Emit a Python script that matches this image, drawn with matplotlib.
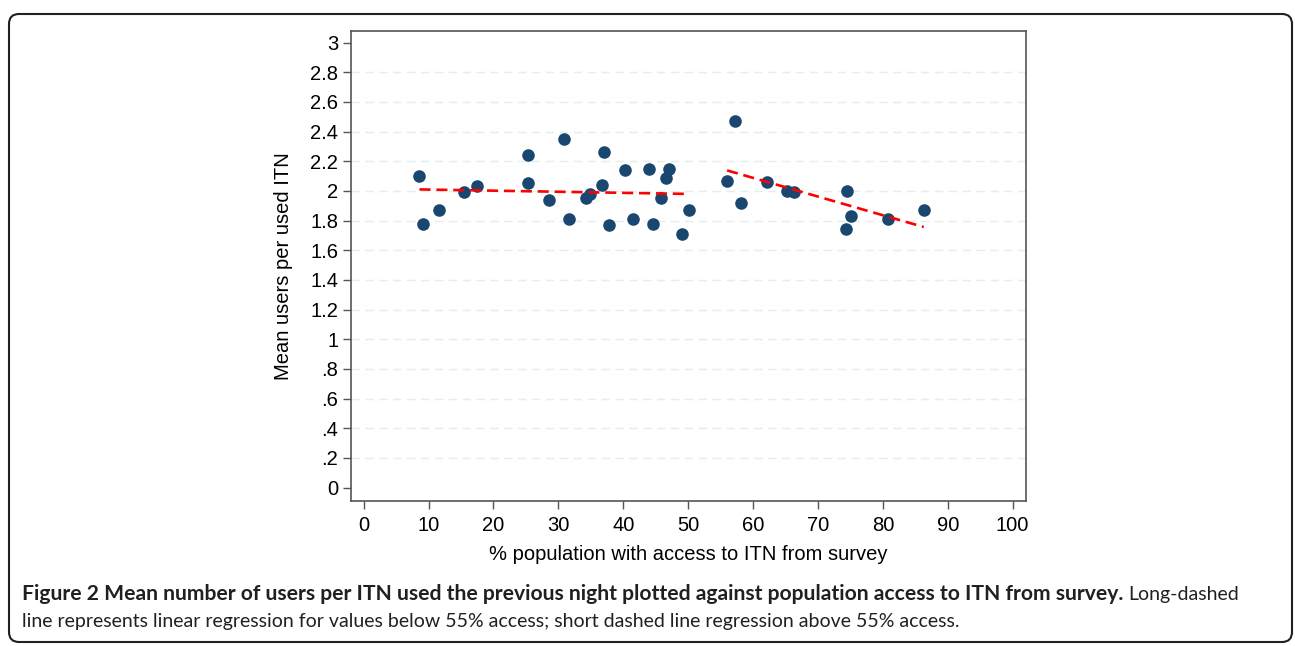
import numpy as np
import matplotlib.pyplot as plt
from matplotlib.patches import FancyBboxPatch
from matplotlib.transforms import IdentityTransform

# survey access (%) and mean users per used ITN
access = [8.6, 9.1, 11.6, 15.5, 17.4, 25.3, 25.3, 28.6, 30.8, 31.6, 34.3, 34.9,
          36.7, 37.1, 37.8, 40.3, 41.5, 44.0, 44.6, 45.8, 46.6, 47.0, 49.0, 50.1,
          56.0, 57.2, 58.1, 62.1, 65.2, 66.3, 74.4, 74.3, 75.1, 80.8, 86.3]
users = [2.10, 1.78, 1.87, 1.99, 2.03, 2.24, 2.05, 1.94, 2.35, 1.81, 1.95, 1.98,
         2.04, 2.26, 1.77, 2.14, 1.81, 2.15, 1.78, 1.95, 2.09, 2.15, 1.71, 1.87,
         2.07, 2.47, 1.92, 2.06, 2.00, 1.99, 2.00, 1.74, 1.83, 1.81, 1.87]
cutoff = 55

yticks = [0, 0.2, 0.4, 0.6, 0.8, 1, 1.2, 1.4, 1.6, 1.8, 2, 2.2, 2.4, 2.6, 2.8, 3]
ylabels = ['0', '.2', '.4', '.6', '.8', '1', '1.2', '1.4', '1.6', '1.8', '2',
           '2.2', '2.4', '2.6', '2.8', '3']
xticks = list(range(0, 101, 10))

navy = '#1a476f'
axcol = '#555555'

fig = plt.figure(figsize=(12.95, 6.46), dpi=100)
ax = fig.add_axes([0.2708, 0.2245, 0.5212, 0.728])

for y in yticks[1:-1]:
    ax.axhline(y, color='#e3eeee', lw=1.0, ls=(0, (6, 4)), zorder=0)

x = np.array(access)
y = np.array(users)
ax.scatter(x, y, s=82, color=navy, zorder=3, linewidths=0)

# separate linear fits below and above the cutoff
for mask in (x < cutoff, x > cutoff):
    xs, ys = x[mask], y[mask]
    b, a = np.polyfit(xs, ys, 1)
    xx = np.array([xs.min(), xs.max()])
    ax.plot(xx, a + b * xx, color='#ff0000', lw=1.9, dashes=(4.2, 2.2), zorder=4)

ax.set_xlim(-2, 102)
ax.set_ylim(-0.09, 3.08)
ax.set_xticks(xticks)
ax.set_yticks(yticks)
ax.set_yticklabels(ylabels)
for s in ax.spines.values():
    s.set_color(axcol)
    s.set_linewidth(1.2)
ax.tick_params(colors=axcol, labelcolor='black', length=6, width=1.0,
               labelsize=14.5)
ax.tick_params(axis='x', pad=5)
ax.tick_params(axis='y', pad=3)
for lab in ax.get_xticklabels() + ax.get_yticklabels():
    lab.set_family('Liberation Sans')

ax.set_xlabel('% population with access to ITN from survey', fontsize=14.5,
              family='Liberation Sans')
ax.set_ylabel('Mean users per used ITN', fontsize=14.5, family='Liberation Sans')
ax.xaxis.set_label_coords(0.5, -0.113)
ax.yaxis.set_label_coords(-0.10, 0.5)
ax.xaxis.label.set_va('center')
ax.yaxis.label.set_va('center')

# caption
H = 646
bold = fig.text(22 / 1295, 1 - 600 / H,
                'Figure 2 Mean number of users per ITN used the previous night '
                'plotted against population access to ITN from survey.',
                fontsize=15.2, fontweight='bold', family='Lato', color='#231f20',
                va='baseline')
fig.canvas.draw()
bb = bold.get_window_extent()
fig.text((bb.x1 + 5) / 1295, 1 - 600 / H, 'Long-dashed', fontsize=14,
         family='Lato', color='#231f20', va='baseline')
fig.text(22 / 1295, 1 - 627 / H,
         'line represents linear regression for values below 55% access; '
         'short dashed line regression above 55% access.',
         fontsize=14, family='Lato', color='#231f20', va='baseline')

frame = FancyBboxPatch((9, 4), 1283, 628, boxstyle='round,pad=0,rounding_size=10',
                       transform=IdentityTransform(), fill=False,
                       ec='#231f20', lw=1.5)
fig.patches.append(frame)

fig.savefig('out.png', dpi=100)
